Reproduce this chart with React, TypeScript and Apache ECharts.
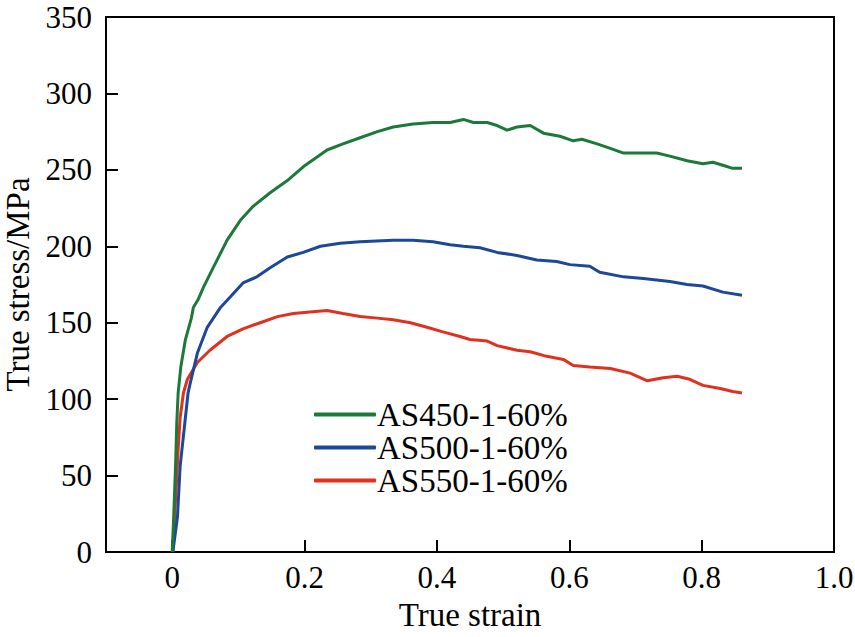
import React, { useEffect, useRef } from "react";
import * as echarts from "echarts";

const seriesNames = ["AS450-1-60%", "AS500-1-60%", "AS550-1-60%"];
const seriesColors = ["#1b7a3a", "#1d4799", "#e0301e"];

const xTicks = [0, 0.2, 0.4, 0.6, 0.8, 1.0];

const green: [number, number][] = [
  [0.0, 0], [0.002, 20], [0.005, 55], [0.007, 85], [0.009, 104], [0.013, 121],
  [0.02, 139], [0.029, 153], [0.032, 160], [0.039, 165], [0.047, 173],
  [0.062, 186], [0.083, 204], [0.103, 217], [0.122, 226], [0.148, 235],
  [0.174, 243], [0.198, 252], [0.234, 263], [0.258, 267], [0.284, 271],
  [0.31, 275], [0.334, 278], [0.364, 280], [0.394, 281], [0.42, 281],
  [0.44, 283], [0.455, 281], [0.476, 281], [0.491, 279], [0.506, 276],
  [0.521, 278], [0.541, 279], [0.561, 274], [0.586, 272], [0.606, 269],
  [0.619, 270], [0.642, 267], [0.662, 264], [0.682, 261], [0.712, 261],
  [0.732, 261], [0.752, 259], [0.778, 256], [0.802, 254], [0.817, 255],
  [0.832, 253], [0.847, 251], [0.861, 251],
];

const blue: [number, number][] = [
  [0.001, 0], [0.008, 23], [0.012, 56], [0.02, 88], [0.024, 104], [0.027, 110],
  [0.038, 130], [0.053, 147], [0.073, 160], [0.088, 167], [0.107, 176],
  [0.128, 180], [0.148, 186], [0.174, 193], [0.198, 196], [0.224, 200],
  [0.254, 202], [0.284, 203], [0.334, 204], [0.364, 204], [0.394, 203],
  [0.42, 201], [0.44, 200], [0.465, 199], [0.491, 196], [0.521, 194],
  [0.551, 191], [0.581, 190], [0.601, 188], [0.631, 187], [0.646, 183],
  [0.682, 180], [0.712, 179], [0.752, 177], [0.778, 175], [0.802, 174],
  [0.832, 170], [0.861, 168],
];

const red: [number, number][] = [
  [0.001, 0], [0.005, 34], [0.009, 67], [0.012, 88], [0.017, 104],
  [0.023, 113], [0.038, 124], [0.057, 132], [0.083, 141], [0.107, 146],
  [0.133, 150], [0.159, 154], [0.183, 156], [0.208, 157], [0.234, 158],
  [0.258, 156], [0.284, 154], [0.31, 153], [0.334, 152], [0.36, 150],
  [0.385, 147], [0.409, 144], [0.435, 141], [0.45, 139], [0.476, 138],
  [0.491, 135], [0.521, 132], [0.541, 131], [0.566, 128], [0.591, 126],
  [0.606, 122], [0.631, 121], [0.662, 120], [0.692, 117], [0.718, 112],
  [0.742, 114], [0.763, 115], [0.782, 113], [0.802, 109], [0.828, 107],
  [0.847, 105], [0.861, 104],
];

const seriesData = [green, blue, red];

const FONT = "'Liberation Serif', 'Times New Roman', serif";

export default function App() {
  const ref = useRef<HTMLDivElement>(null);

  useEffect(() => {
    if (!ref.current) return;
    const chart = echarts.init(ref.current, undefined, { renderer: "svg" });
    chart.setOption({
      animation: false,
      backgroundColor: "#ffffff",
      textStyle: { fontFamily: FONT, color: "#000" },
      grid: {
        left: 106,
        right: 21,
        top: 17,
        bottom: 85,
        show: true,
        borderColor: "#000",
        borderWidth: 2,
        outerBoundsMode: "none",
        containLabel: false,
      },
      legend: {
        orient: "vertical",
        left: 309,
        top: 393,
        itemWidth: 62,
        itemHeight: 4,
        itemGap: 0,
        icon: "roundRect",
        data: seriesNames,
        textStyle: {
          fontFamily: FONT,
          fontSize: 33,
          color: "#000",
          padding: [0, 0, 0, -4],
          lineHeight: 33,
        },
      },
      xAxis: {
        type: "value",
        min: -0.1,
        max: 1.0,
        name: "True strain",
        nameLocation: "middle",
        nameGap: 46,
        nameTextStyle: { fontFamily: FONT, fontSize: 33, color: "#000" },
        splitLine: { show: false },
        axisLine: { onZero: false, lineStyle: { color: "#000", width: 2 } },
        axisTick: {
          inside: true,
          length: 12,
          lineStyle: { color: "#000", width: 2 },
          customValues: xTicks,
        },
        axisLabel: {
          fontFamily: FONT,
          fontSize: 31,
          color: "#000",
          margin: 10,
          customValues: xTicks,
          formatter: (v: number) => (v === 1 ? "1.0" : String(v)),
        },
      },
      yAxis: {
        type: "value",
        min: 0,
        max: 350,
        interval: 50,
        name: "True stress/MPa",
        nameLocation: "middle",
        nameGap: 70,
        nameTextStyle: {
          fontFamily: FONT,
          fontSize: 33,
          color: "#000",
          lineHeight: 30,
        },
        splitLine: { show: false },
        axisLine: { onZero: false, lineStyle: { color: "#000", width: 2 } },
        axisTick: {
          inside: true,
          length: 12,
          lineStyle: { color: "#000", width: 2 },
        },
        axisLabel: {
          fontFamily: FONT,
          fontSize: 31,
          color: "#000",
          margin: 14,
        },
      },
      series: seriesNames.map((name, i) => ({
        name,
        type: "line",
        data: seriesData[i],
        showSymbol: false,
        symbol: "none",
        color: seriesColors[i],
        lineStyle: { width: 3, color: seriesColors[i] },
        z: 3 - i,
      })),
    });
    return () => chart.dispose();
  }, []);

  return (
    <div
      ref={ref}
      style={{ width: 855, height: 637, position: "absolute", left: 0, top: 0 }}
    />
  );
}
